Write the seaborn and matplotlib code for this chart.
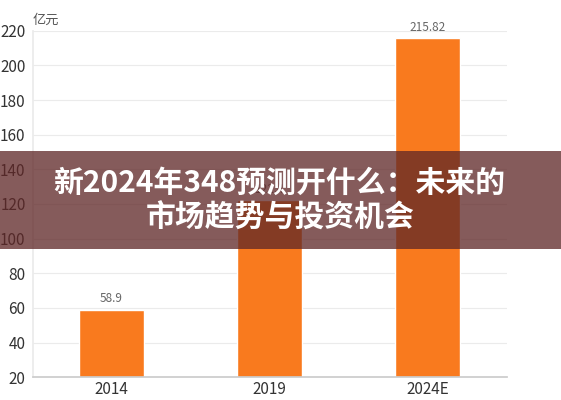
import pandas as pd
import seaborn as sns
import matplotlib.pyplot as plt
from matplotlib.patches import Rectangle

years = ["2014", "2019", "2024E"]
values = [58.9, 122.4, 215.82]
value_labels = ["58.9", "122.4", "215.82"]
y_ticks = [20, 40, 60, 80, 100, 120, 140, 160, 180, 200, 220]
unit = "亿元"
title_lines = ["新2024年348预测开什么：未来的", "市场趋势与投资机会"]

sns.set_theme(style="white")
plt.rcParams['font.family'] = ['Noto Sans CJK SC', 'DejaVu Sans']

df = pd.DataFrame({"year": years, "value": values})

fig = plt.figure(figsize=(5.61, 4.0), dpi=100)
ax = fig.add_axes([0.058, 0.057, 0.845, 0.866])

sns.barplot(data=df, x="year", y="value", color="#f97a1e", saturation=1,
            width=0.41, ax=ax)

ax.set_ylim(20, 220)
ax.set_yticks(y_ticks)
ax.set_xlim(-0.5, 2.5)
ax.grid(axis="y", color="#ebebeb", linewidth=0.8)
ax.set_axisbelow(True)
for side in ["top", "right"]:
    ax.spines[side].set_visible(False)
ax.spines["left"].set_color("#ebebeb")
ax.spines["bottom"].set_color("#cccccc")
ax.tick_params(axis="both", length=0, labelsize=11, labelcolor="#333333", pad=3)
ax.tick_params(axis="y", pad=5)
ax.set_xlabel("")
ax.set_ylabel("")

# value labels (the 2019 one sits under the banner, as in the original)
for i, (v, lab) in enumerate(zip(values, value_labels)):
    ax.text(i, v + 2.5, lab, ha="center", va="bottom", fontsize=8.5, color="#666666")

ax.text(0.0, 1.012, unit, transform=ax.transAxes, ha="left", va="bottom",
        fontsize=9.5, color="#555555")

# dark banner with the title on top of the chart
fig.patches.append(Rectangle((0, 0.3775), 1, 0.245, transform=fig.transFigure,
                             facecolor="#5f2727", alpha=0.76, edgecolor="none",
                             zorder=10))
fig.text(0.497, 0.5425, title_lines[0], ha="center", va="center", fontsize=21.5,
         fontweight=900, color="white", zorder=11)
fig.text(0.5, 0.455, title_lines[1], ha="center", va="center", fontsize=21.5,
         fontweight=900, color="white", zorder=11)

fig.savefig("out.png", dpi=100)
